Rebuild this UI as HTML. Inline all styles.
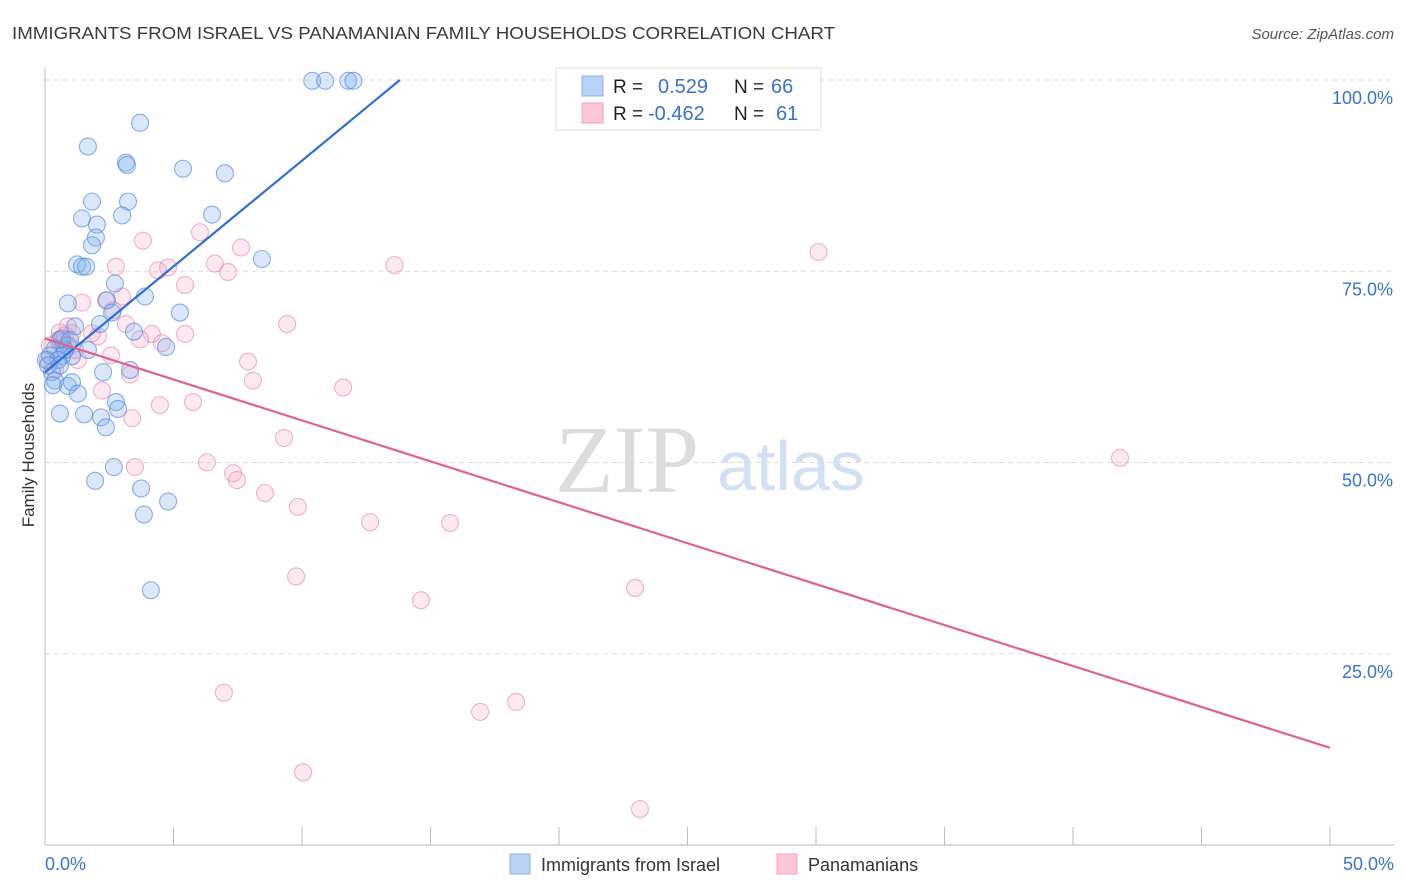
<!DOCTYPE html>
<html><head><meta charset="utf-8"><style>
body{margin:0;background:#fff;font-family:"Liberation Sans",sans-serif;}
#wrap{position:relative;width:1406px;height:892px;overflow:hidden;}
</style></head><body>
<div id="wrap">
<svg id="chart" width="1406" height="892" xmlns="http://www.w3.org/2000/svg">
<text x="12" y="39" font-size="17.5" fill="#3a3a3a" textLength="823" lengthAdjust="spacingAndGlyphs">IMMIGRANTS FROM ISRAEL VS PANAMANIAN FAMILY HOUSEHOLDS CORRELATION CHART</text>
<text x="1394" y="39" font-size="15" fill="#555" font-style="italic" text-anchor="end">Source: ZipAtlas.com</text>
<text transform="translate(34,455) rotate(-90)" font-size="17" fill="#333" text-anchor="middle">Family Households</text>
<g id="grid"></g>
<text x="555" y="492" font-family="Liberation Serif,serif" font-size="96" fill="#dcdcdc">ZIP</text>
<text x="717" y="490" font-size="70" fill="#d2e0f4">atlas</text>
<g id="points"></g>
<g id="lines"></g>
<g>
<rect x="556" y="68" width="265" height="62" fill="#fff" stroke="#ddd"/>
<rect x="582" y="76" width="21" height="20" fill="#b8d2f5" stroke="#8ab0e8"/>
<rect x="582" y="103" width="21" height="20" fill="#fcc8d8" stroke="#f0a0b8"/>
<text x="613" y="93" font-size="19" fill="#222">R =</text>
<text x="658" y="93" font-size="20" fill="#3a72d0">0.529</text>
<text x="734" y="93" font-size="19" fill="#222">N =</text>
<text x="771" y="93" font-size="20" fill="#3a72d0">66</text>
<text x="613" y="120" font-size="19" fill="#222">R =</text>
<text x="648" y="120" font-size="20" fill="#3a72d0">-0.462</text>
<text x="734" y="120" font-size="19" fill="#222">N =</text>
<text x="776" y="120" font-size="20" fill="#3a72d0">61</text>
</g>
<g>
<rect x="510" y="854" width="20" height="20" fill="#b8d2f5" stroke="#8ab0e8"/>
<text x="541" y="871" font-size="18" fill="#333">Immigrants from Israel</text>
<rect x="777" y="854" width="20" height="20" fill="#fcc8d8" stroke="#f0a0b8"/>
<text x="808" y="871" font-size="18" fill="#333">Panamanians</text>
</g>
</svg>
</div>
<script>
const yTicks=[25,50,75,100];
const xTickLabels=["0.0%","50.0%"];
const blueX=[10.4,10.9,11.8,12.0,3.7,1.67,3.15,3.19,5.37,7.0,1.83,3.23,1.44,3.0,6.5,2.02,1.98,1.83,1.25,1.44,1.6,8.44,2.72,3.89,2.41,0.89,5.25,2.61,2.14,1.17,3.46,0.58,4.71,1.67,0.89,0.39,0.19,0.66,1.05,2.26,3.31,0.27,0.39,1.05,0.89,1.28,0.58,1.52,2.76,2.84,2.18,2.37,2.68,1.95,3.74,4.79,3.85,4.12,0.78,0.51,0.31,0.66,0.04,0.12,0.97,0.58];
const blueY=[99.9,99.9,99.9,99.9,94.4,91.3,89.2,88.9,88.4,87.8,84.1,84.1,81.9,82.3,82.4,81.1,79.4,78.4,75.9,75.6,75.6,76.6,73.4,71.7,71.2,70.8,69.6,69.6,68.1,67.8,67.1,66.0,65.1,64.7,65.3,64.9,64.0,63.9,63.9,61.8,62.1,61.8,60.7,60.5,60.0,59.0,56.4,56.3,57.9,57.0,55.9,54.6,49.4,47.6,46.6,44.9,43.2,33.3,64.7,63.4,60.1,66.2,63.4,62.7,66.0,62.7];
const pinkX=[30.1,3.81,7.63,6.03,13.6,2.76,4.4,4.79,6.61,7.12,5.45,3.0,2.37,1.44,2.65,9.42,3.15,4.16,5.45,0.89,0.58,1.05,1.83,2.06,3.7,4.55,0.51,0.19,0.7,7.9,2.57,1.28,3.31,8.09,11.6,2.22,5.76,4.47,3.39,9.3,3.5,6.3,7.32,7.47,8.56,9.84,12.65,15.76,41.83,9.77,14.63,22.96,6.96,16.93,18.33,10.04,23.15,0.12,0.39,0.78,1.17];
const pinkY=[77.5,79.0,78.1,80.1,75.8,75.6,75.1,75.5,76.0,74.9,73.2,71.7,71.2,70.9,69.9,68.1,68.1,66.8,66.8,67.8,67.0,66.9,66.9,66.5,66.1,65.6,66.0,65.3,65.7,63.2,64.0,63.4,61.5,60.7,59.8,59.4,57.9,57.5,55.8,53.2,49.4,50.0,48.6,47.7,46.0,44.2,42.2,42.1,50.6,35.1,32.0,33.6,19.9,17.4,18.7,9.5,4.7,63.4,62.1,66.6,64.7];
const blueTrend=[[0,61.8],[13.81,100]];
const pinkTrend=[[0,66.2],[50,12.7]];
const NS="http://www.w3.org/2000/svg";
const X0=45,X1=1330,Y0=845,YTOP=80;
const sx=v=>X0+(X1-X0)*v/50;
const sy=v=>Y0-(Y0-YTOP)*v/100;
function mk(tag,attrs,parent){const e=document.createElementNS(NS,tag);for(const k in attrs)e.setAttribute(k,attrs[k]);parent.appendChild(e);return e;}
const grid=document.getElementById('grid');
yTicks.forEach(t=>{
  const l=mk('line',{x1:X0,x2:1394,y1:sy(t),y2:sy(t),stroke:'#ddd','stroke-dasharray':'5,4'},grid);
  
  
  const tx=mk('text',{x:1393,y:sy(t)+24,'font-size':18,fill:'#3a72d0','text-anchor':'end'},grid);
  tx.textContent=t.toFixed(1)+'%';
  
  
});
const ax=mk('line',{x1:X0,x2:X0,y1:68,y2:Y0,stroke:'#bbb'},grid);


const bx=mk('line',{x1:X0,x2:1394,y1:Y0,y2:Y0,stroke:'#bbb'},grid);


for(let i=0;i<=10;i++){
  const t=mk('line',{x1:sx(i*5),x2:sx(i*5),y1:827,y2:Y0,stroke:'#bbb'},grid);
  
  
}
[[0,'start',X0],[50,'end',1394]].forEach((d,i)=>{
  const tx=mk('text',{x:d[2],y:870,'font-size':18,fill:'#3a72d0','text-anchor':d[1]},grid);
  tx.textContent=xTickLabels[i];
  
  
});
const pts=document.getElementById('points');
function series(xs,ys,fill,stroke,name){
  xs.forEach((x,i)=>{
    const c=mk('circle',{cx:sx(x),cy:sy(ys[i]),r:8.5,fill:fill,stroke:stroke,'stroke-width':1.1},pts);
    
    
  });
}
series(pinkX,pinkY,'rgba(245,165,195,0.25)','rgba(232,130,165,0.6)','point-panamanians');
series(blueX,blueY,'rgba(130,175,235,0.3)','rgba(80,135,220,0.65)','point-israel');
const lines=document.getElementById('lines');
const lb=mk('line',{x1:sx(blueTrend[0][0]),y1:sy(blueTrend[0][1]),x2:sx(blueTrend[1][0]),y2:sy(blueTrend[1][1]),stroke:'#2f6fd6','stroke-width':2.2},lines);


const lp=mk('line',{x1:sx(pinkTrend[0][0]),y1:sy(pinkTrend[0][1]),x2:sx(pinkTrend[1][0]),y2:sy(pinkTrend[1][1]),stroke:'#e0608e','stroke-width':2.2},lines);


</script>
</body></html>
